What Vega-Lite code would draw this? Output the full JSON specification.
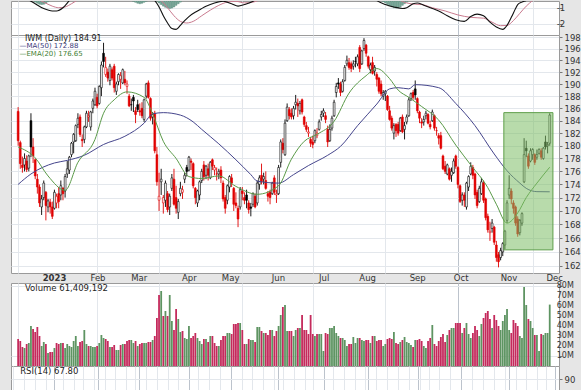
{
"$schema": "https://vega.github.io/schema/vega-lite/v6.json",
"background": "#e6e6e6",
"padding": {"left": 10, "right": 0, "top": 0, "bottom": 0},
"bounds": "flush",
"config": {
  "view": {"stroke": "#9a9a9a", "fill": "#ffffff"},
  "concat": {"spacing": 0},
  "axis": {"labelFont": "DejaVu Sans", "labelFontSize": 8.5, "labelColor": "#333333", "domain": false, "title": null, "labelOverlap": false},
  "text": {"font": "DejaVu Sans"}
},
"datasets": {
"px": [
{"d":"2022-12-05","i":0,"o":185.5,"h":186.2,"l":180.0,"c":180.8,"v":27e6},
{"d":"2022-12-06","i":1,"o":180.5,"h":180.8,"l":176.4,"c":177.2,"v":25e6},
{"d":"2022-12-07","i":2,"o":177.0,"h":178.3,"l":175.8,"c":176.6,"v":19e6},
{"d":"2022-12-08","i":3,"o":177.0,"h":178.8,"l":176.0,"c":178.0,"v":18e6},
{"d":"2022-12-09","i":4,"o":177.6,"h":178.5,"l":175.9,"c":176.3,"v":22e6},
{"d":"2022-12-12","i":5,"o":176.5,"h":178.6,"l":176.0,"c":178.4,"v":23e6},
{"d":"2022-12-13","i":6,"o":184.0,"h":185.2,"l":178.2,"c":179.8,"v":40e6},
{"d":"2022-12-14","i":7,"o":179.8,"h":181.2,"l":177.3,"c":178.4,"v":37e6},
{"d":"2022-12-15","i":8,"o":177.8,"h":178.0,"l":174.8,"c":175.3,"v":34e6},
{"d":"2022-12-16","i":9,"o":174.8,"h":175.6,"l":172.6,"c":173.6,"v":39e6},
{"d":"2022-12-19","i":10,"o":173.6,"h":174.0,"l":170.6,"c":171.2,"v":30e6},
{"d":"2022-12-20","i":11,"o":170.6,"h":172.4,"l":169.4,"c":171.8,"v":20e6},
{"d":"2022-12-21","i":12,"o":172.0,"h":174.6,"l":171.6,"c":174.2,"v":24e6},
{"d":"2022-12-22","i":13,"o":172.8,"h":173.0,"l":168.6,"c":170.8,"v":22e6},
{"d":"2022-12-23","i":14,"o":170.6,"h":171.8,"l":169.8,"c":171.5,"v":13e6},
{"d":"2022-12-27","i":15,"o":171.3,"h":171.8,"l":169.6,"c":170.6,"v":14e6},
{"d":"2022-12-28","i":16,"o":170.6,"h":171.4,"l":168.8,"c":169.2,"v":14e6},
{"d":"2022-12-29","i":17,"o":170.4,"h":173.2,"l":170.2,"c":172.8,"v":18e6},
{"d":"2022-12-30","i":18,"o":171.2,"h":172.6,"l":170.4,"c":172.2,"v":23e6},
{"d":"2023-01-03","i":19,"o":172.6,"h":173.6,"l":170.4,"c":171.4,"v":22e6},
{"d":"2023-01-04","i":20,"o":172.4,"h":174.6,"l":171.6,"c":173.8,"v":23e6},
{"d":"2023-01-05","i":21,"o":173.4,"h":173.6,"l":171.6,"c":172.6,"v":23e6},
{"d":"2023-01-06","i":22,"o":173.0,"h":175.6,"l":172.0,"c":175.2,"v":18e6},
{"d":"2023-01-09","i":23,"o":175.6,"h":177.6,"l":175.0,"c":176.4,"v":22e6},
{"d":"2023-01-10","i":24,"o":176.2,"h":178.4,"l":175.6,"c":178.2,"v":20e6},
{"d":"2023-01-11","i":25,"o":178.6,"h":180.6,"l":178.2,"c":180.4,"v":19e6},
{"d":"2023-01-12","i":26,"o":180.6,"h":182.0,"l":178.8,"c":181.8,"v":25e6},
{"d":"2023-01-13","i":27,"o":180.8,"h":183.4,"l":180.6,"c":183.2,"v":30e6},
{"d":"2023-01-17","i":28,"o":183.4,"h":185.2,"l":182.8,"c":184.4,"v":20e6},
{"d":"2023-01-18","i":29,"o":184.6,"h":185.0,"l":181.4,"c":181.8,"v":24e6},
{"d":"2023-01-19","i":30,"o":181.0,"h":181.8,"l":179.8,"c":180.8,"v":25e6},
{"d":"2023-01-20","i":31,"o":181.0,"h":183.2,"l":180.4,"c":183.0,"v":36e6},
{"d":"2023-01-23","i":32,"o":183.0,"h":185.6,"l":182.8,"c":185.2,"v":22e6},
{"d":"2023-01-24","i":33,"o":184.6,"h":185.6,"l":183.8,"c":184.8,"v":20e6},
{"d":"2023-01-25","i":34,"o":183.0,"h":185.6,"l":182.4,"c":185.4,"v":20e6},
{"d":"2023-01-26","i":35,"o":186.0,"h":187.6,"l":185.2,"c":187.2,"v":19e6},
{"d":"2023-01-27","i":36,"o":186.6,"h":189.4,"l":186.4,"c":188.8,"v":19e6},
{"d":"2023-01-30","i":37,"o":187.8,"h":188.4,"l":186.0,"c":186.4,"v":20e6},
{"d":"2023-01-31","i":38,"o":186.8,"h":189.8,"l":186.6,"c":189.6,"v":23e6},
{"d":"2023-02-01","i":39,"o":189.4,"h":193.8,"l":188.0,"c":193.2,"v":31e6},
{"d":"2023-02-02","i":40,"o":195.2,"h":197.0,"l":192.8,"c":193.8,"v":28e6},
{"d":"2023-02-03","i":41,"o":191.6,"h":194.6,"l":191.2,"c":192.8,"v":27e6},
{"d":"2023-02-06","i":42,"o":192.0,"h":192.6,"l":190.4,"c":191.0,"v":25e6},
{"d":"2023-02-07","i":43,"o":190.6,"h":193.4,"l":189.8,"c":193.0,"v":19e6},
{"d":"2023-02-08","i":44,"o":192.4,"h":192.8,"l":190.6,"c":191.0,"v":19e6},
{"d":"2023-02-09","i":45,"o":193.0,"h":193.4,"l":188.6,"c":189.4,"v":21e6},
{"d":"2023-02-10","i":46,"o":188.8,"h":190.4,"l":188.2,"c":190.0,"v":16e6},
{"d":"2023-02-13","i":47,"o":190.4,"h":191.8,"l":189.8,"c":191.6,"v":16e6},
{"d":"2023-02-14","i":48,"o":190.8,"h":192.0,"l":189.2,"c":191.4,"v":21e6},
{"d":"2023-02-15","i":49,"o":190.2,"h":192.6,"l":190.0,"c":192.4,"v":22e6},
{"d":"2023-02-16","i":50,"o":190.8,"h":192.2,"l":189.8,"c":190.2,"v":22e6},
{"d":"2023-02-17","i":51,"o":189.6,"h":190.6,"l":188.4,"c":190.0,"v":25e6},
{"d":"2023-02-21","i":52,"o":188.0,"h":188.4,"l":186.2,"c":186.4,"v":26e6},
{"d":"2023-02-22","i":53,"o":186.6,"h":187.6,"l":185.6,"c":186.6,"v":26e6},
{"d":"2023-02-23","i":54,"o":187.8,"h":188.2,"l":185.4,"c":187.2,"v":23e6},
{"d":"2023-02-24","i":55,"o":185.6,"h":186.2,"l":183.6,"c":185.0,"v":25e6},
{"d":"2023-02-27","i":56,"o":186.6,"h":187.4,"l":185.4,"c":185.8,"v":20e6},
{"d":"2023-02-28","i":57,"o":185.6,"h":186.8,"l":184.8,"c":185.4,"v":22e6},
{"d":"2023-03-01","i":58,"o":186.0,"h":187.0,"l":184.4,"c":184.8,"v":23e6},
{"d":"2023-03-02","i":59,"o":184.2,"h":187.6,"l":183.8,"c":187.4,"v":23e6},
{"d":"2023-03-03","i":60,"o":188.0,"h":190.2,"l":187.6,"c":190.0,"v":23e6},
{"d":"2023-03-06","i":61,"o":190.2,"h":190.6,"l":187.6,"c":187.8,"v":24e6},
{"d":"2023-03-07","i":62,"o":187.6,"h":187.8,"l":184.0,"c":184.4,"v":24e6},
{"d":"2023-03-08","i":63,"o":184.6,"h":185.4,"l":183.4,"c":185.0,"v":26e6},
{"d":"2023-03-09","i":64,"o":185.2,"h":185.6,"l":178.8,"c":179.2,"v":30e6},
{"d":"2023-03-10","i":65,"o":178.6,"h":179.8,"l":173.8,"c":174.4,"v":48e6},
{"d":"2023-03-13","i":66,"o":171.6,"h":175.8,"l":170.0,"c":172.2,"v":71e6},
{"d":"2023-03-14","i":67,"o":174.4,"h":176.4,"l":172.4,"c":174.8,"v":75e6},
{"d":"2023-03-15","i":68,"o":171.2,"h":172.4,"l":169.6,"c":172.0,"v":50e6},
{"d":"2023-03-16","i":69,"o":171.6,"h":174.6,"l":170.6,"c":174.2,"v":55e6},
{"d":"2023-03-17","i":70,"o":172.6,"h":173.0,"l":169.8,"c":170.2,"v":50e6},
{"d":"2023-03-20","i":71,"o":170.6,"h":172.6,"l":169.4,"c":172.2,"v":71e6},
{"d":"2023-03-21","i":72,"o":173.4,"h":175.6,"l":173.0,"c":175.0,"v":45e6},
{"d":"2023-03-22","i":73,"o":174.8,"h":176.4,"l":170.8,"c":171.0,"v":36e6},
{"d":"2023-03-23","i":74,"o":172.0,"h":173.8,"l":169.6,"c":170.4,"v":57e6},
{"d":"2023-03-24","i":75,"o":169.8,"h":171.8,"l":168.8,"c":171.4,"v":47e6},
{"d":"2023-03-27","i":76,"o":172.6,"h":174.4,"l":172.2,"c":173.4,"v":34e6},
{"d":"2023-03-28","i":77,"o":172.8,"h":173.8,"l":171.8,"c":173.2,"v":35e6},
{"d":"2023-03-29","i":78,"o":174.8,"h":175.8,"l":174.2,"c":175.4,"v":28e6},
{"d":"2023-03-30","i":79,"o":176.6,"h":177.0,"l":175.2,"c":176.0,"v":27e6},
{"d":"2023-03-31","i":80,"o":176.2,"h":178.4,"l":176.0,"c":178.2,"v":40e6},
{"d":"2023-04-03","i":81,"o":177.6,"h":178.0,"l":176.2,"c":177.4,"v":28e6},
{"d":"2023-04-04","i":82,"o":177.2,"h":177.4,"l":173.4,"c":173.8,"v":30e6},
{"d":"2023-04-05","i":83,"o":173.4,"h":173.6,"l":171.0,"c":172.0,"v":33e6},
{"d":"2023-04-06","i":84,"o":171.2,"h":173.2,"l":170.6,"c":173.0,"v":28e6},
{"d":"2023-04-10","i":85,"o":172.4,"h":174.6,"l":171.6,"c":174.4,"v":25e6},
{"d":"2023-04-11","i":86,"o":174.6,"h":176.4,"l":174.2,"c":176.0,"v":22e6},
{"d":"2023-04-12","i":87,"o":177.0,"h":177.6,"l":174.6,"c":175.2,"v":27e6},
{"d":"2023-04-13","i":88,"o":175.4,"h":177.0,"l":174.8,"c":176.8,"v":27e6},
{"d":"2023-04-14","i":89,"o":176.4,"h":177.2,"l":174.6,"c":175.4,"v":24e6},
{"d":"2023-04-17","i":90,"o":175.0,"h":177.6,"l":174.8,"c":177.4,"v":30e6},
{"d":"2023-04-18","i":91,"o":177.8,"h":178.0,"l":176.2,"c":176.8,"v":30e6},
{"d":"2023-04-19","i":92,"o":176.2,"h":177.0,"l":175.4,"c":176.6,"v":23e6},
{"d":"2023-04-20","i":93,"o":175.6,"h":176.6,"l":174.6,"c":175.6,"v":20e6},
{"d":"2023-04-21","i":94,"o":175.6,"h":176.4,"l":174.8,"c":176.0,"v":20e6},
{"d":"2023-04-24","i":95,"o":176.2,"h":176.8,"l":174.2,"c":175.0,"v":26e6},
{"d":"2023-04-25","i":96,"o":174.2,"h":174.6,"l":171.4,"c":171.8,"v":30e6},
{"d":"2023-04-26","i":97,"o":172.0,"h":172.4,"l":169.6,"c":170.4,"v":30e6},
{"d":"2023-04-27","i":98,"o":171.6,"h":174.0,"l":171.0,"c":173.8,"v":33e6},
{"d":"2023-04-28","i":99,"o":173.6,"h":175.4,"l":172.8,"c":175.2,"v":33e6},
{"d":"2023-05-01","i":100,"o":175.0,"h":175.6,"l":173.6,"c":174.2,"v":32e6},
{"d":"2023-05-02","i":101,"o":173.4,"h":173.6,"l":170.0,"c":171.0,"v":42e6},
{"d":"2023-05-03","i":102,"o":171.2,"h":172.8,"l":170.4,"c":170.8,"v":42e6},
{"d":"2023-05-04","i":103,"o":170.4,"h":170.8,"l":167.6,"c":168.8,"v":43e6},
{"d":"2023-05-05","i":104,"o":170.6,"h":173.6,"l":170.2,"c":173.2,"v":43e6},
{"d":"2023-05-08","i":105,"o":173.0,"h":173.6,"l":171.6,"c":172.6,"v":36e6},
{"d":"2023-05-09","i":106,"o":172.0,"h":172.8,"l":171.0,"c":171.6,"v":22e6},
{"d":"2023-05-10","i":107,"o":172.4,"h":173.2,"l":170.4,"c":171.6,"v":22e6},
{"d":"2023-05-11","i":108,"o":171.2,"h":171.6,"l":169.6,"c":170.2,"v":27e6},
{"d":"2023-05-12","i":109,"o":170.6,"h":171.2,"l":169.2,"c":170.4,"v":26e6},
{"d":"2023-05-15","i":110,"o":171.0,"h":172.8,"l":170.6,"c":172.6,"v":26e6},
{"d":"2023-05-16","i":111,"o":172.2,"h":172.6,"l":170.4,"c":170.6,"v":24e6},
{"d":"2023-05-17","i":112,"o":171.2,"h":174.6,"l":170.8,"c":174.2,"v":39e6},
{"d":"2023-05-18","i":113,"o":174.0,"h":175.4,"l":173.2,"c":175.0,"v":39e6},
{"d":"2023-05-19","i":114,"o":175.4,"h":177.2,"l":174.0,"c":174.4,"v":35e6},
{"d":"2023-05-22","i":115,"o":174.8,"h":175.8,"l":174.0,"c":175.2,"v":33e6},
{"d":"2023-05-23","i":116,"o":174.6,"h":176.0,"l":173.2,"c":173.4,"v":33e6},
{"d":"2023-05-24","i":117,"o":172.6,"h":173.0,"l":171.4,"c":172.2,"v":31e6},
{"d":"2023-05-25","i":118,"o":172.8,"h":173.2,"l":171.0,"c":172.0,"v":36e6},
{"d":"2023-05-26","i":119,"o":172.6,"h":174.4,"l":172.4,"c":174.2,"v":36e6},
{"d":"2023-05-30","i":120,"o":175.0,"h":175.4,"l":172.4,"c":172.8,"v":30e6},
{"d":"2023-05-31","i":121,"o":172.4,"h":173.2,"l":171.2,"c":172.6,"v":35e6},
{"d":"2023-06-01","i":122,"o":172.6,"h":177.0,"l":172.4,"c":176.6,"v":40e6},
{"d":"2023-06-02","i":123,"o":177.4,"h":181.0,"l":176.6,"c":180.6,"v":51e6},
{"d":"2023-06-05","i":124,"o":180.4,"h":181.2,"l":178.8,"c":179.4,"v":59e6},
{"d":"2023-06-06","i":125,"o":178.6,"h":184.2,"l":178.4,"c":183.6,"v":61e6},
{"d":"2023-06-07","i":126,"o":184.0,"h":186.8,"l":183.8,"c":186.2,"v":35e6},
{"d":"2023-06-08","i":127,"o":185.8,"h":186.2,"l":184.2,"c":184.8,"v":35e6},
{"d":"2023-06-09","i":128,"o":185.2,"h":186.0,"l":184.2,"c":184.6,"v":35e6},
{"d":"2023-06-12","i":129,"o":184.8,"h":186.4,"l":184.2,"c":186.0,"v":30e6},
{"d":"2023-06-13","i":130,"o":186.6,"h":188.2,"l":185.8,"c":187.0,"v":36e6},
{"d":"2023-06-14","i":131,"o":186.8,"h":187.6,"l":184.6,"c":186.4,"v":38e6},
{"d":"2023-06-15","i":132,"o":185.6,"h":187.2,"l":185.0,"c":186.8,"v":38e6},
{"d":"2023-06-16","i":133,"o":187.4,"h":187.6,"l":185.0,"c":185.4,"v":51e6},
{"d":"2023-06-20","i":134,"o":184.6,"h":184.8,"l":183.0,"c":183.4,"v":36e6},
{"d":"2023-06-21","i":135,"o":183.2,"h":183.8,"l":182.2,"c":182.6,"v":36e6},
{"d":"2023-06-22","i":136,"o":182.0,"h":183.0,"l":181.4,"c":182.2,"v":32e6},
{"d":"2023-06-23","i":137,"o":181.0,"h":181.4,"l":179.8,"c":180.4,"v":51e6},
{"d":"2023-06-26","i":138,"o":180.6,"h":181.6,"l":179.6,"c":180.2,"v":32e6},
{"d":"2023-06-27","i":139,"o":180.8,"h":182.6,"l":180.4,"c":182.4,"v":30e6},
{"d":"2023-06-28","i":140,"o":181.6,"h":182.8,"l":181.2,"c":182.0,"v":32e6},
{"d":"2023-06-29","i":141,"o":182.6,"h":184.2,"l":182.4,"c":183.8,"v":32e6},
{"d":"2023-06-30","i":142,"o":184.6,"h":185.6,"l":184.0,"c":185.0,"v":32e6},
{"d":"2023-07-03","i":143,"o":185.2,"h":186.0,"l":184.6,"c":185.6,"v":15e6},
{"d":"2023-07-05","i":144,"o":184.8,"h":185.4,"l":183.6,"c":184.2,"v":33e6},
{"d":"2023-07-06","i":145,"o":182.6,"h":183.2,"l":179.8,"c":180.6,"v":32e6},
{"d":"2023-07-07","i":146,"o":180.8,"h":183.4,"l":180.6,"c":182.6,"v":38e6},
{"d":"2023-07-10","i":147,"o":182.8,"h":184.8,"l":182.4,"c":184.4,"v":38e6},
{"d":"2023-07-11","i":148,"o":184.8,"h":187.4,"l":184.6,"c":187.0,"v":40e6},
{"d":"2023-07-12","i":149,"o":188.6,"h":190.2,"l":187.8,"c":189.6,"v":33e6},
{"d":"2023-07-13","i":150,"o":190.2,"h":191.0,"l":189.2,"c":190.0,"v":30e6},
{"d":"2023-07-14","i":151,"o":190.0,"h":190.4,"l":188.0,"c":188.6,"v":28e6},
{"d":"2023-07-17","i":152,"o":188.8,"h":190.8,"l":188.6,"c":190.4,"v":28e6},
{"d":"2023-07-18","i":153,"o":190.6,"h":193.2,"l":190.4,"c":192.8,"v":26e6},
{"d":"2023-07-19","i":154,"o":193.4,"h":194.8,"l":193.0,"c":194.0,"v":20e6},
{"d":"2023-07-20","i":155,"o":193.6,"h":194.4,"l":192.4,"c":192.8,"v":22e6},
{"d":"2023-07-21","i":156,"o":193.4,"h":193.8,"l":192.0,"c":192.6,"v":22e6},
{"d":"2023-07-24","i":157,"o":193.0,"h":194.0,"l":192.4,"c":193.4,"v":29e6},
{"d":"2023-07-25","i":158,"o":193.8,"h":194.6,"l":192.8,"c":193.8,"v":23e6},
{"d":"2023-07-26","i":159,"o":193.4,"h":195.0,"l":193.0,"c":194.6,"v":28e6},
{"d":"2023-07-27","i":160,"o":196.2,"h":196.6,"l":192.0,"c":192.6,"v":28e6},
{"d":"2023-07-28","i":161,"o":193.4,"h":195.8,"l":193.2,"c":195.6,"v":26e6},
{"d":"2023-07-31","i":162,"o":196.0,"h":197.8,"l":195.6,"c":197.4,"v":25e6},
{"d":"2023-08-01","i":163,"o":196.6,"h":196.8,"l":194.6,"c":195.2,"v":26e6},
{"d":"2023-08-02","i":164,"o":194.6,"h":194.8,"l":192.6,"c":193.0,"v":26e6},
{"d":"2023-08-03","i":165,"o":192.4,"h":193.6,"l":191.8,"c":193.2,"v":23e6},
{"d":"2023-08-04","i":166,"o":193.6,"h":194.6,"l":191.6,"c":191.8,"v":30e6},
{"d":"2023-08-07","i":167,"o":192.2,"h":193.2,"l":191.4,"c":192.8,"v":30e6},
{"d":"2023-08-08","i":168,"o":191.6,"h":192.0,"l":189.6,"c":190.8,"v":25e6},
{"d":"2023-08-09","i":169,"o":191.0,"h":191.2,"l":188.4,"c":188.8,"v":26e6},
{"d":"2023-08-10","i":170,"o":190.0,"h":190.6,"l":188.0,"c":188.4,"v":26e6},
{"d":"2023-08-11","i":171,"o":188.0,"h":189.0,"l":187.4,"c":188.6,"v":20e6},
{"d":"2023-08-14","i":172,"o":188.4,"h":189.0,"l":187.2,"c":188.8,"v":22e6},
{"d":"2023-08-15","i":173,"o":188.0,"h":188.2,"l":185.6,"c":185.8,"v":27e6},
{"d":"2023-08-16","i":174,"o":185.6,"h":186.4,"l":184.0,"c":184.2,"v":28e6},
{"d":"2023-08-17","i":175,"o":184.4,"h":184.8,"l":182.4,"c":182.8,"v":27e6},
{"d":"2023-08-18","i":176,"o":182.0,"h":183.6,"l":181.0,"c":183.2,"v":34e6},
{"d":"2023-08-21","i":177,"o":183.4,"h":183.6,"l":181.4,"c":182.4,"v":23e6},
{"d":"2023-08-22","i":178,"o":183.4,"h":183.8,"l":181.6,"c":182.0,"v":22e6},
{"d":"2023-08-23","i":179,"o":182.4,"h":184.6,"l":182.2,"c":184.4,"v":24e6},
{"d":"2023-08-24","i":180,"o":184.6,"h":185.0,"l":182.0,"c":182.2,"v":26e6},
{"d":"2023-08-25","i":181,"o":182.6,"h":183.8,"l":181.0,"c":183.2,"v":29e6},
{"d":"2023-08-28","i":182,"o":183.8,"h":185.0,"l":183.4,"c":184.6,"v":24e6},
{"d":"2023-08-29","i":183,"o":184.8,"h":187.8,"l":184.6,"c":187.4,"v":23e6},
{"d":"2023-08-30","i":184,"o":187.6,"h":188.6,"l":187.2,"c":188.4,"v":21e6},
{"d":"2023-08-31","i":185,"o":188.6,"h":189.0,"l":187.4,"c":187.8,"v":19e6},
{"d":"2023-09-01","i":186,"o":189.2,"h":190.6,"l":187.4,"c":188.2,"v":26e6},
{"d":"2023-09-05","i":187,"o":187.6,"h":187.8,"l":185.2,"c":185.6,"v":26e6},
{"d":"2023-09-06","i":188,"o":185.4,"h":185.6,"l":183.6,"c":184.4,"v":27e6},
{"d":"2023-09-07","i":189,"o":183.8,"h":184.4,"l":182.8,"c":183.6,"v":25e6},
{"d":"2023-09-08","i":190,"o":183.8,"h":184.8,"l":183.2,"c":184.2,"v":20e6},
{"d":"2023-09-11","i":191,"o":184.8,"h":185.6,"l":184.2,"c":185.2,"v":18e6},
{"d":"2023-09-12","i":192,"o":185.0,"h":185.2,"l":183.4,"c":183.6,"v":25e6},
{"d":"2023-09-13","i":193,"o":183.4,"h":184.0,"l":182.6,"c":183.0,"v":28e6},
{"d":"2023-09-14","i":194,"o":184.0,"h":185.8,"l":183.8,"c":185.4,"v":41e6},
{"d":"2023-09-15","i":195,"o":184.8,"h":185.0,"l":182.4,"c":182.8,"v":22e6},
{"d":"2023-09-18","i":196,"o":182.4,"h":183.0,"l":181.6,"c":182.4,"v":20e6},
{"d":"2023-09-19","i":197,"o":181.6,"h":182.0,"l":180.2,"c":181.2,"v":25e6},
{"d":"2023-09-20","i":198,"o":181.6,"h":182.2,"l":179.4,"c":179.6,"v":29e6},
{"d":"2023-09-21","i":199,"o":178.4,"h":178.6,"l":176.2,"c":176.4,"v":32e6},
{"d":"2023-09-22","i":200,"o":176.8,"h":177.6,"l":175.6,"c":176.0,"v":24e6},
{"d":"2023-09-25","i":201,"o":175.6,"h":177.2,"l":175.4,"c":177.0,"v":31e6},
{"d":"2023-09-26","i":202,"o":176.4,"h":176.6,"l":174.6,"c":174.8,"v":36e6},
{"d":"2023-09-27","i":203,"o":175.4,"h":176.6,"l":174.4,"c":176.0,"v":38e6},
{"d":"2023-09-28","i":204,"o":175.8,"h":178.0,"l":175.6,"c":177.6,"v":38e6},
{"d":"2023-09-29","i":205,"o":178.4,"h":178.6,"l":176.4,"c":176.8,"v":43e6},
{"d":"2023-10-02","i":206,"o":176.6,"h":176.8,"l":173.4,"c":174.0,"v":43e6},
{"d":"2023-10-03","i":207,"o":173.8,"h":174.0,"l":171.2,"c":171.4,"v":43e6},
{"d":"2023-10-04","i":208,"o":171.6,"h":172.8,"l":170.8,"c":172.4,"v":33e6},
{"d":"2023-10-05","i":209,"o":172.4,"h":172.8,"l":170.6,"c":171.6,"v":38e6},
{"d":"2023-10-06","i":210,"o":170.6,"h":174.4,"l":170.2,"c":174.2,"v":43e6},
{"d":"2023-10-09","i":211,"o":173.6,"h":175.4,"l":173.0,"c":175.2,"v":32e6},
{"d":"2023-10-10","i":212,"o":175.6,"h":177.4,"l":175.4,"c":176.8,"v":28e6},
{"d":"2023-10-11","i":213,"o":176.6,"h":177.0,"l":174.8,"c":175.4,"v":33e6},
{"d":"2023-10-12","i":214,"o":175.6,"h":175.8,"l":171.8,"c":172.4,"v":40e6},
{"d":"2023-10-13","i":215,"o":172.8,"h":173.2,"l":170.4,"c":170.8,"v":36e6},
{"d":"2023-10-16","i":216,"o":171.4,"h":173.8,"l":171.2,"c":173.4,"v":30e6},
{"d":"2023-10-17","i":217,"o":172.6,"h":175.0,"l":172.4,"c":174.4,"v":42e6},
{"d":"2023-10-18","i":218,"o":174.2,"h":174.6,"l":171.2,"c":171.6,"v":48e6},
{"d":"2023-10-19","i":219,"o":171.8,"h":172.0,"l":168.6,"c":169.0,"v":53e6},
{"d":"2023-10-20","i":220,"o":169.2,"h":169.6,"l":166.8,"c":167.2,"v":55e6},
{"d":"2023-10-23","i":221,"o":166.8,"h":168.4,"l":165.6,"c":167.0,"v":47e6},
{"d":"2023-10-24","i":222,"o":167.4,"h":168.8,"l":166.8,"c":168.2,"v":38e6},
{"d":"2023-10-25","i":223,"o":167.6,"h":167.8,"l":165.0,"c":165.4,"v":51e6},
{"d":"2023-10-26","i":224,"o":165.0,"h":165.6,"l":162.6,"c":163.2,"v":46e6},
{"d":"2023-10-27","i":225,"o":163.6,"h":164.0,"l":161.8,"c":162.6,"v":40e6},
{"d":"2023-10-30","i":226,"o":163.2,"h":164.6,"l":162.8,"c":164.2,"v":36e6},
{"d":"2023-10-31","i":227,"o":164.0,"h":165.4,"l":163.4,"c":165.2,"v":45e6},
{"d":"2023-11-01","i":228,"o":165.0,"h":167.2,"l":164.4,"c":167.0,"v":51e6},
{"d":"2023-11-02","i":229,"o":168.6,"h":171.6,"l":168.2,"c":171.2,"v":57e6},
{"d":"2023-11-03","i":230,"o":172.4,"h":175.4,"l":171.8,"c":173.4,"v":36e6},
{"d":"2023-11-06","i":231,"o":173.0,"h":173.4,"l":171.0,"c":171.8,"v":33e6},
{"d":"2023-11-07","i":232,"o":171.2,"h":171.6,"l":169.6,"c":170.4,"v":46e6},
{"d":"2023-11-08","i":233,"o":170.6,"h":170.8,"l":167.8,"c":168.2,"v":43e6},
{"d":"2023-11-09","i":234,"o":168.8,"h":169.2,"l":166.2,"c":166.6,"v":40e6},
{"d":"2023-11-10","i":235,"o":166.8,"h":168.8,"l":166.4,"c":168.6,"v":30e6},
{"d":"2023-11-13","i":236,"o":168.2,"h":169.8,"l":167.8,"c":169.6,"v":28e6},
{"d":"2023-11-14","i":237,"o":174.4,"h":181.2,"l":174.2,"c":178.6,"v":79e6},
{"d":"2023-11-15","i":238,"o":179.6,"h":180.8,"l":178.2,"c":179.2,"v":61e6},
{"d":"2023-11-16","i":239,"o":178.4,"h":178.8,"l":176.4,"c":176.8,"v":47e6},
{"d":"2023-11-17","i":240,"o":177.6,"h":179.6,"l":177.4,"c":179.2,"v":45e6},
{"d":"2023-11-20","i":241,"o":178.6,"h":179.6,"l":177.8,"c":179.4,"v":38e6},
{"d":"2023-11-21","i":242,"o":178.6,"h":178.8,"l":177.0,"c":177.4,"v":31e6},
{"d":"2023-11-22","i":243,"o":178.2,"h":179.4,"l":177.8,"c":178.6,"v":31e6},
{"d":"2023-11-24","i":244,"o":178.8,"h":179.6,"l":178.6,"c":179.4,"v":15e6},
{"d":"2023-11-27","i":245,"o":179.2,"h":179.6,"l":177.8,"c":178.2,"v":32e6},
{"d":"2023-11-28","i":246,"o":178.0,"h":179.8,"l":177.8,"c":179.6,"v":31e6},
{"d":"2023-11-29","i":247,"o":180.6,"h":181.6,"l":179.4,"c":179.8,"v":33e6},
{"d":"2023-11-30","i":248,"o":180.0,"h":180.6,"l":178.8,"c":180.2,"v":33e6},
{"d":"2023-12-01","i":249,"o":180.4,"h":185.2,"l":180.0,"c":184.9,"v":61409192}
],
"ma50": [
{"i":0,"v":174.0},{"i":6,"v":175.6},{"i":17,"v":177.3},{"i":23,"v":177.7},{"i":31,"v":178.5},{"i":40,"v":180.2},{"i":50,"v":181.5},{"i":59,"v":183.6},{"i":63,"v":185.1},{"i":68,"v":185.3},{"i":76,"v":184.9},{"i":82,"v":183.8},{"i":86,"v":182.6},{"i":94,"v":180.3},{"i":102,"v":177.8},{"i":109,"v":175.5},{"i":112,"v":174.5},{"i":122,"v":174.2},{"i":129,"v":175.5},{"i":136,"v":176.9},{"i":145,"v":178.5},{"i":151,"v":179.9},{"i":159,"v":183.2},{"i":168,"v":186.7},{"i":174,"v":189.2},{"i":178,"v":189.4},{"i":183,"v":189.2},{"i":186,"v":189.9},{"i":197,"v":189.4},{"i":205,"v":186.8},{"i":214,"v":183.2},{"i":223,"v":178.7},{"i":229,"v":176.1},{"i":235,"v":174.2},{"i":238,"v":173.4},{"i":243,"v":172.9},{"i":249,"v":172.88}
],
"ema20": [
{"i":0,"v":179.8},{"i":8,"v":178.1},{"i":14,"v":175.3},{"i":22,"v":173.1},{"i":28,"v":177.4},{"i":36,"v":181.0},{"i":40,"v":185.2},{"i":45,"v":187.4},{"i":51,"v":188.7},{"i":59,"v":187.8},{"i":63,"v":185.1},{"i":68,"v":180.7},{"i":74,"v":178.0},{"i":80,"v":175.2},{"i":86,"v":174.9},{"i":94,"v":175.3},{"i":102,"v":173.7},{"i":112,"v":172.5},{"i":122,"v":173.8},{"i":128,"v":177.9},{"i":134,"v":180.7},{"i":140,"v":181.8},{"i":148,"v":183.9},{"i":155,"v":188.5},{"i":163,"v":191.4},{"i":168,"v":192.6},{"i":174,"v":190.9},{"i":178,"v":189.0},{"i":183,"v":187.8},{"i":189,"v":186.3},{"i":197,"v":184.1},{"i":205,"v":180.1},{"i":212,"v":177.0},{"i":220,"v":173.5},{"i":224,"v":171.0},{"i":229,"v":168.2},{"i":234,"v":169.7},{"i":238,"v":172.0},{"i":243,"v":174.2},{"i":249,"v":176.65}
],
"macd": [
{"i":0,"v":-0.3},{"i":4,"v":-0.45},{"i":8,"v":-0.75},{"i":12,"v":-1.05},{"i":16,"v":-1.2},{"i":18,"v":-1.2},{"i":21,"v":-1.0},{"i":24,"v":-0.55},{"i":27,"v":-0.1},{"i":32,"v":0.4},{"i":45,"v":0.8},{"i":58,"v":0.2},{"i":62,"v":-0.3},{"i":64,"v":-0.55},{"i":66,"v":-0.95},{"i":68,"v":-1.5},{"i":70,"v":-1.95},{"i":72,"v":-2.3},{"i":74,"v":-2.35},{"i":76,"v":-2.1},{"i":78,"v":-1.8},{"i":80,"v":-1.55},{"i":84,"v":-1.2},{"i":88,"v":-0.9},{"i":92,"v":-0.7},{"i":96,"v":-0.6},{"i":100,"v":-0.75},{"i":103,"v":-0.9},{"i":106,"v":-0.8},{"i":110,"v":-0.6},{"i":114,"v":-0.2},{"i":120,"v":0.5},{"i":140,"v":1.0},{"i":160,"v":1.2},{"i":165,"v":-0.2},{"i":168,"v":-0.55},{"i":172,"v":-0.8},{"i":176,"v":-0.95},{"i":180,"v":-1.05},{"i":182,"v":-1.0},{"i":185,"v":-0.75},{"i":187,"v":-0.7},{"i":190,"v":-0.85},{"i":194,"v":-1.05},{"i":197,"v":-1.2},{"i":201,"v":-1.5},{"i":205,"v":-1.75},{"i":209,"v":-1.85},{"i":212,"v":-1.55},{"i":215,"v":-1.4},{"i":218,"v":-1.5},{"i":221,"v":-1.9},{"i":224,"v":-2.2},{"i":227,"v":-2.35},{"i":229,"v":-2.1},{"i":231,"v":-1.6},{"i":233,"v":-1.05},{"i":234,"v":-0.8},{"i":236,"v":-0.65},{"i":238,"v":-0.55},{"i":242,"v":-0.2},{"i":249,"v":0.3}
],
"signal": [
{"i":0,"v":0.2},{"i":8,"v":-0.4},{"i":12,"v":-0.65},{"i":16,"v":-0.9},{"i":19,"v":-1.0},{"i":22,"v":-0.95},{"i":25,"v":-0.75},{"i":28,"v":-0.5},{"i":32,"v":-0.1},{"i":40,"v":0.5},{"i":60,"v":0.3},{"i":64,"v":-0.2},{"i":67,"v":-0.55},{"i":70,"v":-1.0},{"i":73,"v":-1.5},{"i":76,"v":-1.85},{"i":79,"v":-1.95},{"i":82,"v":-1.85},{"i":86,"v":-1.5},{"i":90,"v":-1.15},{"i":94,"v":-0.85},{"i":98,"v":-0.65},{"i":102,"v":-0.6},{"i":106,"v":-0.7},{"i":110,"v":-0.65},{"i":114,"v":-0.45},{"i":120,"v":0.0},{"i":160,"v":1.0},{"i":174,"v":0.2},{"i":178,"v":-0.45},{"i":182,"v":-0.7},{"i":186,"v":-0.78},{"i":189,"v":-0.8},{"i":194,"v":-1.0},{"i":200,"v":-1.2},{"i":206,"v":-1.45},{"i":212,"v":-1.6},{"i":218,"v":-1.65},{"i":222,"v":-1.9},{"i":226,"v":-2.12},{"i":229,"v":-2.1},{"i":232,"v":-1.8},{"i":235,"v":-1.35},{"i":238,"v":-0.9},{"i":241,"v":-0.55},{"i":245,"v":-0.1}
],
"hist": [
{"i":7,"v":-0.55},{"i":8,"v":-0.65},{"i":9,"v":-0.72},{"i":10,"v":-0.78},{"i":11,"v":-0.8},{"i":12,"v":-0.78},{"i":13,"v":-0.72},{"i":14,"v":-0.62},
{"i":54,"v":-0.6},{"i":55,"v":-0.66},{"i":56,"v":-0.72},{"i":57,"v":-0.75},{"i":58,"v":-0.72},{"i":59,"v":-0.66},{"i":60,"v":-0.6},
{"i":65,"v":-0.6},{"i":66,"v":-0.7},{"i":67,"v":-0.8},{"i":68,"v":-0.9},{"i":69,"v":-0.97},{"i":70,"v":-1.02},{"i":71,"v":-1.05},{"i":72,"v":-1.02},{"i":73,"v":-0.95},{"i":74,"v":-0.85},{"i":75,"v":-0.75},{"i":76,"v":-0.65},
{"i":171,"v":-0.62},{"i":172,"v":-0.7},{"i":173,"v":-0.8},{"i":174,"v":-0.88},{"i":175,"v":-0.95},{"i":176,"v":-1.0},{"i":177,"v":-1.02},{"i":178,"v":-1.0},{"i":179,"v":-0.95},{"i":180,"v":-0.85},{"i":181,"v":-0.75},{"i":182,"v":-0.65}
],
"months": [
{"i":19,"m":"2023"},{"i":39,"m":"Feb"},{"i":58,"m":"Mar"},{"i":81,"m":"Apr"},{"i":100,"m":"May"},{"i":122,"m":"Jun"},{"i":143,"m":"Jul"},{"i":163,"m":"Aug"},{"i":186,"m":"Sep"},{"i":206,"m":"Oct"},{"i":228,"m":"Nov"},{"i":249,"m":"Dec"}
],
"vticks": [
{"v":10000000,"t":"10M"},{"v":20000000,"t":"20M"},{"v":30000000,"t":"30M"},{"v":40000000,"t":"40M"},{"v":50000000,"t":"50M"},{"v":60000000,"t":"60M"},{"v":70000000,"t":"70M"},{"v":80000000,"t":"80M"}
],
"mticks": [{"v":-1,"t":"-1"},{"v":-2,"t":"-2"}],
"box": [{"from": 227.5, "to": 250.5, "lo": 164.3, "hi": 185.3}]
},
"vconcat": [
{
  "width": 548, "height": 34,
  "layer": [
    {"data": {"name": "hist"},
     "mark": {"type": "bar", "size": 1.8, "clip": true, "color": "#79a99a", "stroke": "#4f8272", "strokeWidth": 0.4},
     "encoding": {
       "x": {"field": "i", "type": "quantitative", "scale": {"domain": [-1, 251], "nice": false, "zero": false},
             "axis": {"values": [0,5,10,15,19,23,28,32,37,39,42,47,52,56,58,61,66,71,76,81,85,90,95,100,105,110,115,120,122,124,129,134,138,143,147,152,157,162,163,167,172,177,182,186,187,191,196,201,206,211,216,221,226,228,231,236,241,245,249], "labels": false, "ticks": false, "grid": true, "gridColor": {"condition": {"test": "indexof([19,39,58,81,100,122,143,163,186,206,228,249], datum.value) >= 0", "value": "#bcc3cc"}, "value": "#e3e7ec"}}},
       "y": {"field": "v", "type": "quantitative", "scale": {"domain": [-2.7, -0.58], "nice": false, "zero": false},
             "axis": {"orient": "right", "values": [-2, -1], "labels": false, "grid": true, "gridColor": "#e3e7ec", "tickSize": 3, "tickColor": "#777777"}},
       "y2": {"datum": 0}
     }},
    {"data": {"name": "signal"},
     "mark": {"type": "line", "clip": true, "color": "#c97a8e", "strokeWidth": 1, "interpolate": "monotone"},
     "encoding": {"x": {"field": "i", "type": "quantitative"}, "y": {"field": "v", "type": "quantitative"}}},
    {"data": {"name": "macd"},
     "mark": {"type": "line", "clip": true, "color": "#111111", "strokeWidth": 1.1, "interpolate": "monotone"},
     "encoding": {"x": {"field": "i", "type": "quantitative"}, "y": {"field": "v", "type": "quantitative"}}},
    {"data": {"name": "mticks"},
     "mark": {"type": "text", "align": "left", "baseline": "middle", "fontSize": 8.5, "color": "#333333"},
     "encoding": {"x": {"datum": 252.3}, "y": {"field": "v", "type": "quantitative"}, "text": {"field": "t"}}}
  ]
},
{
  "width": 548, "height": 238,
  "layer": [
    {"data": {"name": "px"},
     "transform": [{"window": [{"op": "lag", "field": "c", "as": "pc"}], "sort": [{"field": "i"}]}],
     "mark": {"type": "rule", "strokeWidth": 0.9},
     "encoding": {
       "x": {"field": "i", "type": "quantitative", "scale": {"domain": [-1, 251], "nice": false, "zero": false},
             "axis": {"values": [0,5,10,15,19,23,28,32,37,39,42,47,52,56,58,61,66,71,76,81,85,90,95,100,105,110,115,120,122,124,129,134,138,143,147,152,157,162,163,167,172,177,182,186,187,191,196,201,206,211,216,221,226,228,231,236,241,245,249], "labels": false, "ticks": false, "grid": true,
                      "gridColor": {"condition": {"test": "indexof([19,39,58,81,100,122,143,163,186,206,228,249], datum.value) >= 0", "value": "#bcc3cc"}, "value": "#e3e7ec"}}},
       "y": {"field": "l", "type": "quantitative", "scale": {"type": "log", "domain": [161.0, 198.35], "nice": false, "zero": false},
             "axis": {"orient": "right", "values": [162,164,166,168,170,172,174,176,178,180,182,184,186,188,190,192,194,196,198], "grid": true, "gridColor": "#e3e7ec", "tickSize": 3, "tickColor": "#777777", "labelPadding": 2}},
       "y2": {"field": "h"},
       "stroke": {"condition": {"test": "datum.pc == null || datum.c < datum.pc", "value": "#e00000"}, "value": "#000000"}
     }},
    {"data": {"name": "px"},
     "transform": [{"window": [{"op": "lag", "field": "c", "as": "pc"}], "sort": [{"field": "i"}]}],
     "mark": {"type": "bar", "size": 1.8, "strokeWidth": 0.6},
     "encoding": {
       "x": {"field": "i", "type": "quantitative"},
       "y": {"field": "o", "type": "quantitative"},
       "y2": {"field": "c"},
       "fill": {"condition": [{"test": "datum.c > datum.o", "value": "#ffffff"}, {"test": "datum.pc == null || datum.c < datum.pc", "value": "#e00000"}], "value": "#000000"},
       "stroke": {"condition": {"test": "datum.pc == null || datum.c < datum.pc", "value": "#e00000"}, "value": "#000000"}
     }},
    {"data": {"name": "ma50"},
     "mark": {"type": "line", "color": "#45458c", "strokeWidth": 1, "interpolate": "monotone"},
     "encoding": {"x": {"field": "i", "type": "quantitative"}, "y": {"field": "v", "type": "quantitative"}}},
    {"data": {"name": "ema20"},
     "mark": {"type": "line", "color": "#5a9a48", "strokeWidth": 1, "interpolate": "monotone"},
     "encoding": {"x": {"field": "i", "type": "quantitative"}, "y": {"field": "v", "type": "quantitative"}}},
    {"data": {"name": "box"},
     "mark": {"type": "rect", "fill": "#7dbd66", "fillOpacity": 0.55, "stroke": "#5e9e4a", "strokeWidth": 1},
     "encoding": {"x": {"field": "from", "type": "quantitative"}, "x2": {"field": "to"}, "y": {"field": "lo", "type": "quantitative"}, "y2": {"field": "hi"}}},
    {"data": {"values": [{"t": "IWM (Daily) 184.91"}]},
     "mark": {"type": "text", "align": "left", "baseline": "middle", "fontSize": 8, "color": "#222222"},
     "encoding": {"x": {"datum": 3.2}, "y": {"datum": 197.6}, "text": {"field": "t"}}},
    {"data": {"values": [{"t": "—MA(50) 172.88"}]},
     "mark": {"type": "text", "align": "left", "baseline": "middle", "fontSize": 7, "color": "#3a3a7a"},
     "encoding": {"x": {"datum": 0.6}, "y": {"datum": 196.4}, "text": {"field": "t"}}},
    {"data": {"values": [{"t": "—EMA(20) 176.65"}]},
     "mark": {"type": "text", "align": "left", "baseline": "middle", "fontSize": 7, "color": "#3f7f35"},
     "encoding": {"x": {"datum": 0.6}, "y": {"datum": 195.1}, "text": {"field": "t"}}}
  ]
},
{
  "width": 548, "height": 10,
  "view": {"stroke": null, "fill": null},
  "data": {"name": "months"},
  "layer": [
    {"transform": [{"filter": "datum.m != '2023'"}],
     "mark": {"type": "text", "fontSize": 8.5, "color": "#333333", "baseline": "middle"},
     "encoding": {"x": {"field": "i", "type": "quantitative", "scale": {"domain": [-1, 251], "nice": false, "zero": false}, "axis": null}, "text": {"field": "m"}}},
    {"transform": [{"filter": "datum.m == '2023'"}],
     "mark": {"type": "text", "fontSize": 8.5, "fontWeight": "bold", "color": "#333333", "baseline": "middle"},
     "encoding": {"x": {"field": "i", "type": "quantitative"}, "text": {"field": "m"}}}
  ]
},
{
  "width": 548, "height": 83,
  "layer": [
    {"data": {"name": "px"},
     "transform": [{"window": [{"op": "lag", "field": "c", "as": "pc"}], "sort": [{"field": "i"}]}],
     "mark": {"type": "bar", "size": 1.8},
     "encoding": {
       "x": {"field": "i", "type": "quantitative", "scale": {"domain": [-1, 251], "nice": false, "zero": false},
             "axis": {"values": [0,5,10,15,19,23,28,32,37,39,42,47,52,56,58,61,66,71,76,81,85,90,95,100,105,110,115,120,122,124,129,134,138,143,147,152,157,162,163,167,172,177,182,186,187,191,196,201,206,211,216,221,226,228,231,236,241,245,249], "labels": false, "ticks": false, "grid": true, "gridColor": {"condition": {"test": "indexof([19,39,58,81,100,122,143,163,186,206,228,249], datum.value) >= 0", "value": "#bcc3cc"}, "value": "#e3e7ec"}}},
       "y": {"field": "v", "type": "quantitative", "scale": {"domain": [0, 83000000], "nice": false},
             "axis": {"orient": "right", "values": [10000000,20000000,30000000,40000000,50000000,60000000,70000000,80000000], "labels": false, "grid": true, "gridColor": "#e3e7ec", "tickSize": 3, "tickColor": "#777777"}},
       "color": {"condition": {"test": "datum.pc == null || datum.c < datum.pc", "value": "#c42a5c"}, "value": "#5e9462"}
     }},
    {"data": {"name": "vticks"},
     "mark": {"type": "text", "align": "left", "baseline": "middle", "fontSize": 8, "color": "#333333"},
     "encoding": {"x": {"datum": 252.3}, "y": {"field": "v", "type": "quantitative"}, "text": {"field": "t"}}},
    {"data": {"values": [{"t": "Volume 61,409,192"}]},
     "mark": {"type": "text", "align": "left", "baseline": "middle", "fontSize": 8.5, "color": "#222222"},
     "encoding": {"x": {"datum": 3.2}, "y": {"datum": 78300000}, "text": {"field": "t"}}}
  ]
},
{
  "width": 548, "height": 25,
  "layer": [
    {"data": {"values": [{"t": "RSI(14) 67.80"}]},
     "mark": {"type": "text", "align": "left", "baseline": "middle", "fontSize": 8.5, "color": "#222222"},
     "encoding": {
       "x": {"datum": 3.2, "type": "quantitative", "scale": {"domain": [-1, 251], "nice": false, "zero": false},
             "axis": {"values": [0,5,10,15,19,23,28,32,37,39,42,47,52,56,58,61,66,71,76,81,85,90,95,100,105,110,115,120,122,124,129,134,138,143,147,152,157,162,163,167,172,177,182,186,187,191,196,201,206,211,216,221,226,228,231,236,241,245,249], "labels": false, "ticks": false, "grid": true, "gridColor": {"condition": {"test": "indexof([19,39,58,81,100,122,143,163,186,206,228,249], datum.value) >= 0", "value": "#bcc3cc"}, "value": "#e3e7ec"}}},
       "y": {"datum": 96.2, "type": "quantitative", "scale": {"domain": [80.8, 100], "nice": false, "zero": false},
             "axis": {"orient": "right", "values": [90], "grid": true, "gridColor": "#e3e7ec", "tickSize": 3, "tickColor": "#777777", "labelPadding": 2}},
       "text": {"field": "t"}
     }}
  ]
}
]
}
